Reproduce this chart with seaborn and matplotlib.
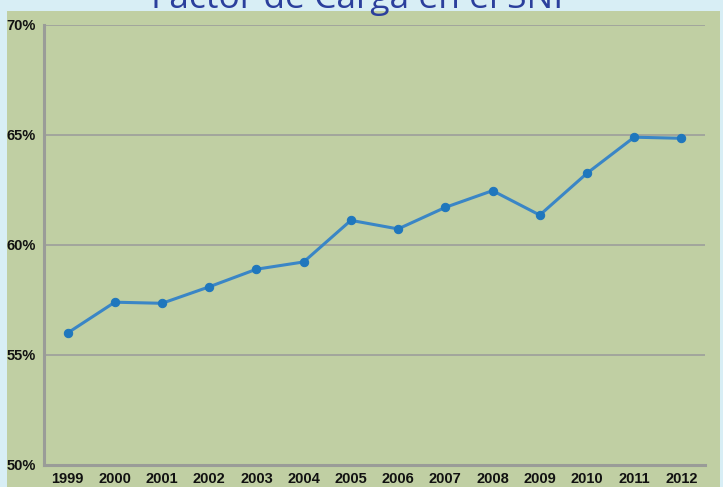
import numpy as np
import pandas as pd
import seaborn as sns
import matplotlib.pyplot as plt
from matplotlib.patches import Rectangle
from matplotlib.ticker import FixedLocator, FuncFormatter

years = ["1999", "2000", "2001", "2002", "2003", "2004", "2005",
         "2006", "2007", "2008", "2009", "2010", "2011", "2012"]
factor = [56.0, 57.4, 57.35, 58.1, 58.9, 59.23, 61.12,
          60.73, 61.71, 62.47, 61.36, 63.26, 64.9, 64.85]
yticks = [50, 55, 60, 65, 70]
title = "Factor de Carga en el SNI"

df = pd.DataFrame({"year": years, "factor": factor})

sns.set_style("white")
plt.rcParams["font.family"] = ["Liberation Sans", "DejaVu Sans"]

fig = plt.figure(figsize=(7.23, 4.87), dpi=100)
fig.patch.set_facecolor("#d8eef5")

# green panel behind the chart
fig.patches.append(Rectangle((7 / 723, 0), 713 / 723, 476 / 487,
                             transform=fig.transFigure, facecolor="#c0cfa3",
                             edgecolor="none", zorder=-1))

ax = fig.add_axes([44 / 723, 1 - 465 / 487, 661 / 723, 440 / 487])
ax.set_facecolor("none")

sns.lineplot(data=df, x="year", y="factor", ax=ax, color="#3a86c6",
             linewidth=2.2, marker="o", markersize=6,
             markerfacecolor="#1f77bd", markeredgecolor="#1f77bd", zorder=3)

ax.set_xlim(-0.5, len(years) - 0.5)
ax.set_ylim(50, 70)
ax.set_yticks(yticks)
ax.yaxis.set_major_formatter(FuncFormatter(lambda v, p: f"{v:.0f}%"))
ax.grid(axis="y", color="#9fa29c", linewidth=1.3)
ax.set_axisbelow(True)

ax.set_xticks(range(len(years)))
ax.set_xticklabels(years)
ax.xaxis.set_minor_locator(FixedLocator(np.arange(-0.5, len(years), 1)))
ax.tick_params(axis="x", which="major", length=0, pad=5)
ax.tick_params(axis="x", which="minor", length=4, width=1.5, color="#9a9c98")
ax.tick_params(axis="y", length=4, width=1.5, color="#9a9c98", pad=2)
for lab in ax.get_xticklabels() + ax.get_yticklabels():
    lab.set_fontweight("bold")
    lab.set_fontsize(10.5)
    lab.set_color("#111111")

for side in ["top", "right"]:
    ax.spines[side].set_visible(False)
for side in ["left", "bottom"]:
    ax.spines[side].set_color("#9a9c98")
    ax.spines[side].set_linewidth(2.2)

ax.set_xlabel("")
ax.set_ylabel("")

fig.text(0.494, 1 - 8 / 487, title, ha="center", va="baseline",
         fontsize=25.5, color="#2b3f9c", family=["Open Sans", "DejaVu Sans"])

fig.savefig("out.png", dpi=100, facecolor=fig.get_facecolor())
